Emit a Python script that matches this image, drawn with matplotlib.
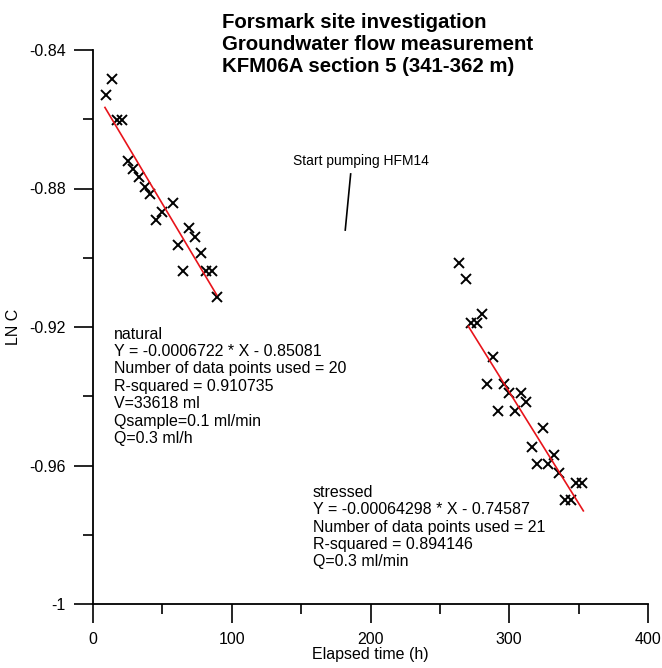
import numpy as np
import matplotlib
matplotlib.use("Agg")
import matplotlib.pyplot as plt
from matplotlib.ticker import MultipleLocator, FuncFormatter

plt.rcParams['font.family'] = ['Liberation Sans', 'DejaVu Sans']

# natural flow period
t_nat = [13.5, 9.4, 17.5, 21.1, 25.5, 29.1, 33.4, 37.5, 41.1, 57.9,
         49.5, 45.4, 69.4, 73.5, 61.0, 77.6, 65.1, 81.4, 85.5, 89.1]
c_nat = [-0.8485, -0.8531, -0.8602, -0.8602, -0.8721, -0.8745, -0.8768, -0.8795, -0.8817, -0.8843,
         -0.8867, -0.8891, -0.8915, -0.8939, -0.8963, -0.8987, -0.9037, -0.9037, -0.9037, -0.9112]

# stressed period (after pumping start)
t_str = [264.0, 268.6, 280.1, 272.2, 276.5, 288.1, 284.2, 296.2, 300.0, 308.2, 312.1, 292.1,
         304.1, 324.1, 316.2, 332.3, 320.2, 328.2, 336.1, 348.1, 352.2, 340.2, 344.3]
c_str = [-0.9014, -0.9062, -0.9162, -0.9188, -0.9188, -0.9288, -0.9365, -0.9365, -0.9390, -0.9390,
         -0.9416, -0.9442, -0.9442, -0.9493, -0.9546, -0.9570, -0.9597, -0.9597, -0.9623, -0.9650,
         -0.9650, -0.9700, -0.9700]

# regression lines: slope, intercept, x range
fit_nat = (-0.0006722, -0.85081, 8.6, 89.1)
fit_str = (-0.00064298, -0.74587, 270.5, 353.4)

fig = plt.figure(figsize=(6.62, 6.68), dpi=100)
ax = fig.add_axes([93/662, 64/668, 555/662, 554/668])

ax.plot(t_nat, c_nat, 'x', color='k', ms=6.8, mew=1.4)
ax.plot(t_str, c_str, 'x', color='k', ms=6.8, mew=1.4)

for a, b, x0, x1 in (fit_nat, fit_str):
    xs = np.array([x0, x1])
    ax.plot(xs, a*xs + b, color='#e8141b', lw=1.2)

ax.set_xlim(0, 400)
ax.set_ylim(-1, -0.84)
for s in ('top', 'right'):
    ax.spines[s].set_visible(False)
for s in ('left', 'bottom'):
    ax.spines[s].set_linewidth(1.3)

ax.xaxis.set_major_locator(MultipleLocator(100))
ax.xaxis.set_minor_locator(MultipleLocator(50))
ax.yaxis.set_major_locator(MultipleLocator(0.04))
ax.yaxis.set_minor_locator(MultipleLocator(0.02))
ax.yaxis.set_major_formatter(FuncFormatter(lambda v, p: '%g' % round(v, 2)))
ax.tick_params(which='major', direction='out', length=13.5, width=1.2, labelsize=11.5, pad=6)
ax.tick_params(which='minor', direction='out', length=7, width=1.2)
ax.tick_params(axis='x', which='major', pad=7)

ax.set_xlabel('Elapsed time (h)', fontsize=11.5, labelpad=0)
ax.set_ylabel('LN C', fontsize=11.5, labelpad=6)

fig.text(222/662, 1 - 13/668, 'Forsmark site investigation\nGroundwater flow measurement\nKFM06A section 5 (341-362 m)',
         fontsize=14.7, fontweight='bold', va='top', ha='left', linespacing=1.2)

ax.text(15.1, -0.9199, 'natural\nY = -0.0006722 * X - 0.85081\nNumber of data points used = 20\n'
        'R-squared = 0.910735\nV=33618 ml\nQsample=0.1 ml/min\nQ=0.3 ml/h',
        fontsize=11.5, va='top', ha='left', linespacing=1.2)
ax.text(158.3, -0.9656, 'stressed\nY = -0.00064298 * X - 0.74587\nNumber of data points used = 21\n'
        'R-squared = 0.894146\nQ=0.3 ml/min',
        fontsize=11.5, va='top', ha='left', linespacing=1.2)

ax.text(144.1, -0.8732, 'Start pumping HFM14', fontsize=10, va='baseline', ha='left')
ax.plot([185.7, 181.8], [-0.8758, -0.8920], color='k', lw=1.2)

fig.savefig('out.png', dpi=100)
